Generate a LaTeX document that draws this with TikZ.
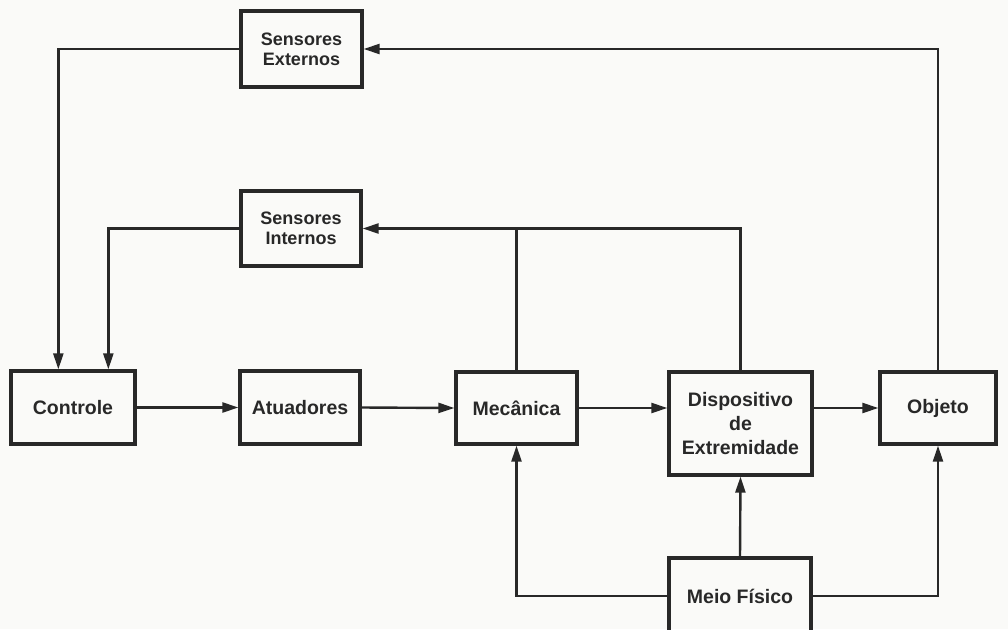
\documentclass[tikz,border=0pt]{standalone}
\usepackage{fontspec}
\setmainfont{Liberation Sans}
\usetikzlibrary{arrows.meta}
\definecolor{paper}{RGB}{250,250,248}
\definecolor{ink}{RGB}{40,40,40}
\begin{document}
\begin{tikzpicture}[x=1pt,y=-1pt,
  block/.style={draw=ink,line width=3.3pt,rectangle,inner sep=0pt,
    text=ink,align=center,font=\bfseries\fontsize{19.5}{23}\selectfont},
  link/.style={draw=ink,line width=2.4pt},
  flow/.style={link,-{Triangle[length=16pt,width=10pt]}}]
  % page
  \fill[paper] (0,0) rectangle (1008,629);
  \useasboundingbox (0,0) rectangle (1008,629);
  \begin{scope}
  \clip (0,0) rectangle (1008,629);
  % blocks
  \node[block,minimum width=121pt,minimum height=76pt,font=\bfseries\fontsize{18}{20}\selectfont] (sext) at (301.5,49) {Sensores\\Externos};
  \node[block,minimum width=120pt,minimum height=75pt,font=\bfseries\fontsize{18}{20}\selectfont] (sint) at (301,228.5) {Sensores\\Internos};
  \node[block,minimum width=124pt,minimum height=73pt] (ctrl) at (73,407.5) {Controle};
  \node[block,minimum width=120pt,minimum height=73pt] (atu) at (300,407.5) {Atuadores};
  \node[block,minimum width=121pt,minimum height=72pt] (mec) at (516.5,408) {Mecânica};
  \node[block,minimum width=143pt,minimum height=103pt,font=\bfseries\fontsize{19.5}{24}\selectfont] (disp) at (740.5,423.5) {Dispositivo\\de\\Extremidade};
  \node[block,minimum width=116pt,minimum height=72pt] (obj) at (938,408) {Objeto};
  \node[block,minimum width=142pt,minimum height=76pt] (meio) at (740,596) {Meio Físico};
  % entry points on top of Controle
  \coordinate (cin1) at ([xshift=49pt]ctrl.north west);
  \coordinate (cin2) at ([xshift=99pt]ctrl.north west);
  % forward chain
  \draw[flow] (ctrl.east) -- (atu.west);
  \draw[flow] (atu.east) -- (mec.west);
  \draw[flow] (mec.east) -- (mec.east -| disp.west);
  \draw[flow] (disp.east |- obj.west) -- (obj.west);
  % external sensing loop
  \draw[flow] (obj.north) |- (sext.east);
  \draw[flow] (sext.west) -| (cin1);
  % internal sensing loop
  \draw[flow] (disp.north) |- (sint.east);
  \draw[link] (mec.north) -- (mec.north |- sint.east);
  \draw[flow] (sint.west) -| (cin2);
  % physical medium
  \draw[flow] (meio.west) -| (mec.south);
  \draw[flow] (meio.north) -- (disp.south);
  \draw[flow] (meio.east) -| (obj.south);
  \end{scope}
\end{tikzpicture}
\end{document}
